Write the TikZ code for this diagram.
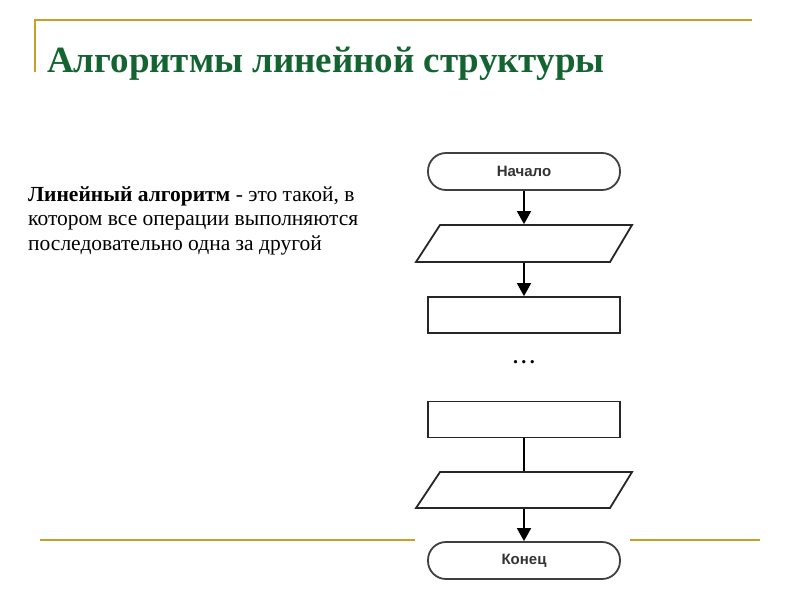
\documentclass[tikz,border=0pt]{standalone}
\usepackage{fontspec}
\setmainfont{Liberation Serif}
\newfontfamily\arialf{Liberation Sans}
\usetikzlibrary{arrows.meta}
\definecolor{gold}{RGB}{200,160,40}
\definecolor{ttl}{RGB}{20,100,50}
\tikzset{
 term/.style={draw=black!75,line width=1.8pt,rounded corners=18pt,minimum width=192pt,minimum height=37pt,font=\arialf\bfseries\fontsize{15}{17}\selectfont,text=black!80},
 box/.style={draw=black!85,line width=1.8pt,minimum width=192pt,minimum height=36pt},
 io/.style={draw=black!85,line width=1.8pt},
 arr/.style={line width=1.8pt,-{Triangle[length=13pt,width=14pt]}},
 rule/.style={gold,line width=1.5pt}
}
\begin{document}
\begin{tikzpicture}[x=1pt,y=-1pt]
\useasboundingbox (0,0) rectangle (800,600);
\fill[white] (0,0) rectangle (800,600);
\draw[rule] (35,20) -- (752,20);
\draw[rule] (35,19.4) -- (35,72);
\draw[rule] (40,540) -- (415,540);
\draw[rule] (630,540) -- (760,540);
\node[anchor=base west,text=ttl,font=\bfseries\fontsize{37}{40}\selectfont,inner sep=0] (title) at (47,72) {Алгоритмы линейной структуры};
\node[anchor=north west,align=left,inner sep=0,font=\fontsize{21.5}{24.5}\selectfont] (def) at (28,186) {\textbf{Линейный алгоритм} - это такой, в\\котором все операции выполняются\\последовательно одна за другой};
\node[term] (start) at (524,171.5) {Начало};
\node[box,draw=none,minimum height=37pt] (p1) at (524,243.5) {};
\draw[io] (440,225) -- (632,225) -- (610,262) -- (416,262) -- cycle;
\node[box] (r1) at (524,315) {};
\node[font=\bfseries\fontsize{20}{20}\selectfont] (dots) at (524,362) {.\,.\,.};
\node[box] (r2) at (524,419.5) {};
\node[box,draw=none,minimum height=36pt] (p2) at (524,490) {};
\draw[io] (440,472) -- (632,472) -- (610,508) -- (416,508) -- cycle;
\node[term] (end) at (524,560.5) {Конец};
\draw[arr] (start) -- (p1);
\draw[arr] (p1) -- (r1);
\draw[line width=1.8pt] (r2) -- (p2);
\draw[arr] (p2) -- (end);
\end{tikzpicture}
\end{document}
